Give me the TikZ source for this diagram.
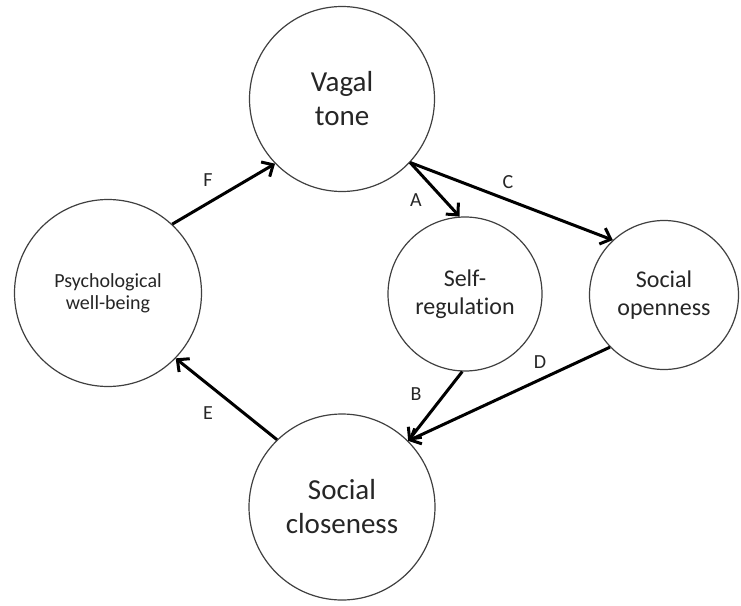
\documentclass[tikz,border=0pt]{standalone}
\usepackage{fontspec}
\setmainfont[Ligatures={NoCommon}]{Carlito}
\usetikzlibrary{arrows.meta}
\begin{document}
\begin{tikzpicture}[x=1pt,y=-1pt,
  bub/.style={circle, draw=black!75, line width=1.2pt, inner sep=0pt, align=center, fill=white, text=black!85},
  big/.style={font=\fontsize{29}{34}\selectfont},
  mid/.style={font=\fontsize{24}{28}\selectfont},
  sml/.style={font=\fontsize{20}{22}\selectfont},
  arr/.style={line width=3pt, -{Straight Barb[length=9pt,width=17pt]}},
  lab/.style={font=\fontsize{20}{22}\selectfont, text=black!85}]
\useasboundingbox (0,0) rectangle (741,605);
\node[bub,big,minimum size=185pt] (vagal) at (342,99) {Vagal\\tone};
\node[bub,sml,minimum size=187pt] (psych) at (108,293) {Psychological\\well-being};
\node[bub,mid,minimum size=154pt] (selfreg) at (465,294) {Self-\\regulation};
\node[bub,mid,minimum size=149pt] (open) at (664,295) {Social\\openness};
\node[bub,big,minimum size=186pt] (close) at (342,507) {Social\\closeness};
\draw[arr] (psych.47) -- (vagal.224);
\draw[arr] (close.134) -- (psych.316);
\draw[arr] (vagal.317) -- (selfreg.94);
\draw[arr] (vagal.317) -- (open.133);
\draw[arr] (selfreg.268) -- (close.45);
\draw[arr] (open.224) -- (close.45);
\node[lab] (la) at (416,200) {A};
\node[lab] (lb) at (416,394) {B};
\node[lab] (lc) at (508,182) {C};
\node[lab] (ld) at (540,362) {D};
\node[lab] (le) at (208,413) {E};
\node[lab] (lf) at (208,180) {F};
\end{tikzpicture}
\end{document}
